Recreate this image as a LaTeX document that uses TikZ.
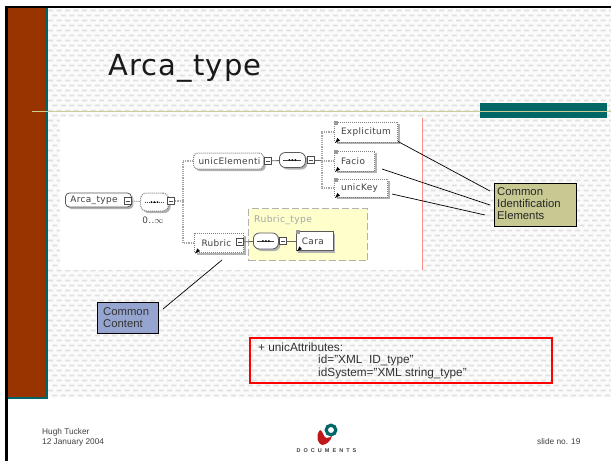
\documentclass[tikz,border=0pt]{standalone}
\usepackage{fontspec}
\setmainfont{Liberation Sans}
\newfontfamily\titlefont[LetterSpace=4]{DejaVu Sans}
\newfontfamily\xsdfont[LetterSpace=4]{DejaVu Sans}
\newfontfamily\logofont[LetterSpace=55]{Liberation Sans}
\usetikzlibrary{calc,shadows}
\definecolor{brownbar}{HTML}{993300}
\definecolor{tealc}{HTML}{006666}
\definecolor{rulec}{HTML}{CCCC99}
\definecolor{tanbox}{HTML}{C8C893}
\definecolor{bluebox}{HTML}{96A5D0}
\definecolor{yellowbox}{HTML}{FFFFCC}
\definecolor{dotgray}{HTML}{E0E0E0}
\definecolor{xsdtext}{HTML}{404040}
\definecolor{logored}{HTML}{C01818}
\tikzset{
  sh/.style={drop shadow={shadow xshift=2pt,shadow yshift=-2pt,fill=black!30,opacity=1}},
  xsdbox/.style={minimum height=#1,inner sep=0pt,fill=white,font=\xsdfont\fontsize{8.9}{10}\selectfont,text=xsdtext,anchor=west},
  solidel/.style={xsdbox=#1,draw=black!65,line width=.8pt,sh},
  optel/.style={xsdbox=#1,draw=black!50,densely dotted,line width=1pt,sh},
  expander/.style={draw=black!70,line width=.8pt,fill=white,minimum size=7.5pt,inner sep=0pt,
    path picture={\draw[black!70,line width=.7pt] ([xshift=1.5pt]path picture bounding box.west) -- ([xshift=-1.5pt]path picture bounding box.east);}},
  seqmark/.style={path picture={
    \draw[black!75,line width=.7pt] ([xshift=4pt]path picture bounding box.west) -- ([xshift=-4pt]path picture bounding box.east);
    \foreach \d in {-3,0,3}{\fill[black] ([xshift=\d pt]path picture bounding box.center) circle (1pt);}}},
  seqsolid/.style={draw=black!65,line width=.8pt,fill=white,rounded corners=6pt,inner sep=0pt,sh,seqmark},
  seqdot/.style={draw=black!50,densely dotted,line width=1pt,fill=white,rounded corners=6pt,inner sep=0pt,sh,seqmark},
  link/.style={black!60,line width=.8pt},
  dotlink/.style={black!35,densely dotted,line width=1.2pt},
  callout/.style={black,line width=.7pt},
  notebox/.style={draw=black,line width=.8pt,inner sep=0pt,anchor=north west},
  lbl/.style={inner sep=0pt,anchor=west,font=\fontsize{#1}{#1}\selectfont,text=black!80},
  tagarrow/.style={black,line width=.8pt,-latex},
}
\begin{document}
\begin{tikzpicture}[x=1pt,y=-1pt]
\useasboundingbox (0,0) rectangle (611,461);
\fill[white] (0,0) rectangle (611,461);
% textured slide background
\fill[black!1.5] (48,8) rectangle (611,398);
\fill[dotgray]
  \foreach \r in {0,...,77}{
    \foreach \c in {0,...,66}{
      ({48+8.5*\c+4.25*mod(\r,2)},{9.5+5*\r}) rectangle ++(5,1.8)
    }
  };
\fill[white] (611,398) rectangle (48,400);
\fill[white] (611,0) rectangle (48,8);
% frame and side bar
\fill[black] (5,6) rectangle (611,8);
\fill[black] (5,6) rectangle (8,461);
\fill[tealc] (8,8) rectangle (48,399);
\fill[brownbar] (8,8) rectangle (45,397);
% title
\node[inner sep=0pt,anchor=base west,font=\titlefont\fontsize{29}{30}\selectfont,text=black!90] (title) at (108,75) {Arca\_type};
% white diagram panel
\fill[white] (60,117) rectangle (422,270);
\fill[tealc] (480,103) rectangle (607,118);
\coordinate (ruleL) at (32,111);
\coordinate (ruleR) at (611,111);
\draw[rulec,line width=.8pt] (ruleL) -- (ruleR);
\coordinate (redT) at (422,118);
\coordinate (redB) at (422,270);
\draw[red!45,line width=.8pt] (redT) -- (redB);
% yellow type box
\node[draw=black!30,dashed,dash pattern=on 7pt off 3pt,line width=1.2pt,fill=yellowbox,minimum width=119pt,minimum height=52pt,inner sep=0pt,anchor=north west] (rtype) at (248,208) {};
\node[inner sep=0pt,anchor=west,font=\xsdfont\fontsize{9.2}{10}\selectfont,text=black!35] (rtypelbl) at (254,220) {Rubric\_type};
% schema elements
\node[solidel=14pt,minimum width=66pt,rounded corners=4pt,align=left,text width=62pt] (arca) at (65,200) {\hspace*{3pt}Arca\_type};
\node[expander] (arcax) at (128,201) {};
\node[seqdot,minimum width=28pt,minimum height=18pt,anchor=west] (seqa) at (140,202) {};
\node[expander] (seqax) at (171,201) {};
\node[inner sep=0pt,font=\xsdfont\fontsize{8.9}{10}\selectfont,text=xsdtext] (occ) at (153,220) {0..\(\infty\)};
\node[optel=16pt,minimum width=70pt,rounded corners=4pt,text width=66pt,align=left] (unic) at (193,161) {\hspace*{3pt}unicElementi};
\node[expander] (unicx) at (268,161) {};
\node[seqsolid,minimum width=26pt,minimum height=15pt,anchor=west] (seqb) at (279,160) {};
\node[expander] (seqbx) at (311,160) {};
\node[optel=19pt,minimum width=49pt,text width=45pt,align=left] (rubric) at (194,243) {\hspace*{5pt}Rubric};
\node[expander] (rubricx) at (240,242) {};
\node[seqsolid,minimum width=25pt,minimum height=16pt,anchor=west] (seqc) at (253,241) {};
\node[expander] (seqcx) at (283,241) {};
\node[solidel=19pt,minimum width=37pt,text width=34pt,align=left] (cara) at (296,241) {\hspace*{4pt}Cara};
\node[optel=20pt,minimum width=63pt,text width=60pt,align=left] (expl) at (334,132) {\hspace*{5pt}Explicitum};
\node[optel=20pt,minimum width=40pt,text width=37pt,align=left] (facio) at (334,161) {\hspace*{5pt}Facio};
\node[optel=18pt,minimum width=53pt,text width=50pt,align=left] (ukey) at (334,188) {\hspace*{5pt}unicKey};
% connectors in the schema
\coordinate (busa) at (183,201);
\coordinate (busb) at (322,160);
\draw[link,densely dotted] (arcax) -- (seqa);
\draw[dotlink] (seqax) -- (busa);
\draw[dotlink] (unic.west) -| (busa);
\draw[dotlink] (rubric.west) -| (busa);
\draw[link] (unicx) -- (seqb);
\draw[link] (seqbx) -- (busb);
\draw[dotlink] (expl.west) -| (busb);
\draw[dotlink] (facio.west) -| (busb);
\draw[dotlink] (ukey.west) -| (busb);
\draw[link] (rubricx) -- (seqc);
\draw[link] (seqcx) -- (cara);
% reference arrows and tags on elements
\foreach \n in {expl,facio,ukey,rubric,cara}{
  \draw[tagarrow] ($(\n.south west)+(4.5,-3)$) -- ($(\n.south west)+(1,0.5)$);
}
\foreach \n in {expl,facio,ukey,cara}{
  \fill[black!40] ($(\n.north west)+(0,-1)$) rectangle ++(4,4);
}
% callouts
\node[notebox,fill=tanbox,minimum width=82pt,minimum height=43pt] (cie) at (494,183) {};
\node[lbl=11.3,text=black!85,align=left,anchor=north west,font=\fontsize{11.3}{12}\selectfont] (cietxt) at (497,187) {Common\\Identification\\Elements};
\coordinate (c1) at (490,191);
\coordinate (c2) at (490,205);
\coordinate (c3) at (485,215);
\coordinate (f2) at (382,169);
\coordinate (f3) at (392,194);
\draw[callout] ($(expl.south east)+(0,-1)$) -- (c1);
\draw[callout] (f2) -- (c2);
\draw[callout] (f3) -- (c3);
\node[notebox,fill=bluebox,minimum width=61pt,minimum height=31pt] (cc) at (97,302) {};
\node[lbl=11.3,align=left,anchor=north west,font=\fontsize{11.3}{12}\selectfont] (cctxt) at (103,307) {Common\\Content};
\coordinate (r1) at (222,260);
\coordinate (r2) at (163,309);
\draw[callout] (r1) -- (r2);
% attributes box
\node[draw=red,line width=1.6pt,minimum width=302pt,minimum height=45pt,inner sep=0pt,anchor=north west] (attr) at (249,337) {};
\node[lbl=11.8] (a1) at (258,347) {+ unicAttributes:};
\node[lbl=11.8] (a2) at (318,360) {id=”XML\ \ ID\_type”};
\node[lbl=11.8] (a3) at (318,373) {idSystem=”XML string\_type”};
% footer
\node[lbl=8.3,text=black!75] (f1) at (42,432) {Hugh Tucker};
\node[lbl=8.3,text=black!75] (f4) at (42,442) {12 January 2004};
\node[lbl=8.3,text=black!75] (f5) at (537,442) {slide no. 19};
% logo
\fill[logored] (320,430) .. controls (323,431) and (323,436) .. (326,438)
  .. controls (328,438) and (331,437) .. (332,436) .. controls (331,441) and (326,445) .. (322,445)
  .. controls (318,444) and (315,436) .. (320,430);
\draw[tealc,line width=3.2pt] (331,430) circle (4.8);
\node[inner sep=0pt,font=\logofont\bfseries\fontsize{5.5}{6}\selectfont,text=black!75] (logo) at (326.5,451) {DOCUMENTS};
\end{tikzpicture}
\end{document}
